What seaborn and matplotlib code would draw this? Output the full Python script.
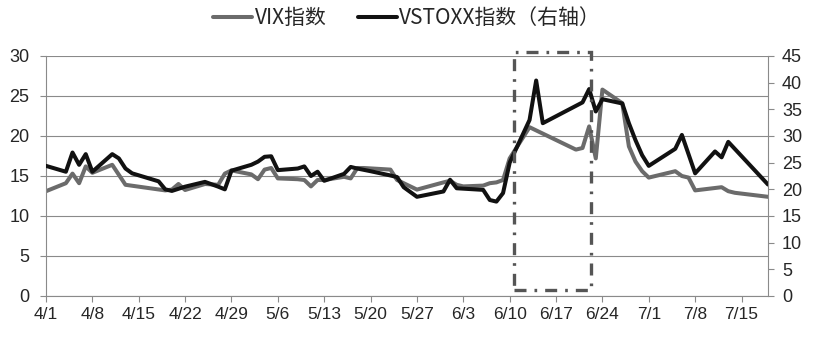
import pandas as pd
import matplotlib
matplotlib.use('Agg')
import matplotlib.pyplot as plt
import matplotlib.dates as mdates
import seaborn as sns
from matplotlib.patches import Rectangle

# VIX（左轴）
vix_dates = ['4/1', '4/4', '4/5', '4/6', '4/7', '4/8', '4/11', '4/13', '4/19', '4/20',
             '4/21', '4/22', '4/25', '4/27', '4/28', '4/29', '5/2', '5/3', '5/4', '5/5',
             '5/6', '5/9', '5/10', '5/11', '5/12', '5/13', '5/16', '5/17', '5/18', '5/19',
             '5/23', '5/24', '5/27', '5/31', '6/1', '6/2', '6/3', '6/6', '6/7', '6/8',
             '6/9', '6/10', '6/13', '6/14', '6/20', '6/21', '6/22', '6/23', '6/24', '6/27',
             '6/28', '6/29', '6/30', '7/1', '7/5', '7/6', '7/7', '7/8', '7/11', '7/12',
             '7/13', '7/14', '7/15', '7/18', '7/19']
vix_values = [13.1, 14.1, 15.3, 14.1, 16.2, 15.4, 16.4, 13.9, 13.2, 13.3,
              14.0, 13.25, 14.0, 13.9, 15.3, 15.7, 15.2, 14.6, 15.8, 16.0,
              14.7, 14.6, 14.5, 13.7, 14.5, 14.5, 14.9, 14.7, 16.0, 16.0,
              15.8, 14.5, 13.3, 14.2, 14.4, 13.9, 13.7, 13.8, 14.1, 14.2,
              14.5, 17.2, 21.1, 20.7, 18.3, 18.5, 21.2, 17.2, 25.8, 24.1,
              18.7, 16.8, 15.6, 14.8, 15.6, 15.0, 14.8, 13.2, 13.5, 13.6,
              13.1, 12.9, 12.8, 12.5, 12.4]

# VSTOXX（右轴）
vstoxx_dates = ['4/1', '4/4', '4/5', '4/6', '4/7', '4/8', '4/11', '4/12', '4/13', '4/14',
                '4/18', '4/19', '4/20', '4/22', '4/25', '4/27', '4/28', '4/29', '5/2', '5/3',
                '5/4', '5/5', '5/6', '5/9', '5/10', '5/11', '5/12', '5/13', '5/16', '5/17',
                '5/18', '5/20', '5/23', '5/24', '5/25', '5/27', '5/31', '6/1', '6/2', '6/6',
                '6/7', '6/8', '6/9', '6/10', '6/13', '6/14', '6/15', '6/21', '6/22', '6/23',
                '6/24', '6/27', '6/28', '6/29', '6/30', '7/1', '7/5', '7/6', '7/8', '7/11',
                '7/12', '7/13', '7/19']
vstoxx_values = [24.4, 23.3, 26.9, 24.6, 26.6, 23.3, 26.6, 25.8, 23.9, 23.0,
                 21.5, 20.0, 19.7, 20.5, 21.4, 20.5, 20.0, 23.5, 24.6, 25.2,
                 26.1, 26.2, 23.6, 23.9, 24.3, 22.5, 23.3, 21.6, 22.9, 24.2,
                 23.9, 23.4, 22.6, 22.3, 20.4, 18.6, 19.6, 21.8, 20.2, 19.9,
                 18.0, 17.7, 19.3, 25.0, 33.0, 40.4, 32.4, 36.3, 38.8, 34.6,
                 36.9, 36.1, 32.4, 29.2, 26.4, 24.4, 27.6, 30.2, 23.0, 27.1,
                 26.0, 28.9, 20.9]

x_tick_labels = ['4/1', '4/8', '4/15', '4/22', '4/29', '5/6', '5/13', '5/20',
                 '5/27', '6/3', '6/10', '6/17', '6/24', '7/1', '7/8', '7/15']
left_ticks = [0, 5, 10, 15, 20, 25, 30]
right_ticks = [0, 5, 10, 15, 20, 25, 30, 35, 40, 45]


def to_date(md):
    return pd.to_datetime('2016/' + md)


vix_df = pd.DataFrame({'date': [to_date(d) for d in vix_dates], 'value': vix_values})
vstoxx_df = pd.DataFrame({'date': [to_date(d) for d in vstoxx_dates], 'value': vstoxx_values})

sns.set_style('white')
plt.rcParams['font.family'] = ['Liberation Sans', 'DejaVu Sans']

fig = plt.figure(figsize=(8.14, 3.37), dpi=100)
ax = fig.add_axes([46 / 814, 41 / 337, 722 / 814, 240 / 337])
ax2 = ax.twinx()

grid_color = '#8a8a8a'

sns.lineplot(data=vix_df, x='date', y='value', ax=ax, color='#6b6b6b',
             linewidth=2.9, label='VIX指数', legend=False)
sns.lineplot(data=vstoxx_df, x='date', y='value', ax=ax2, color='#111111',
             linewidth=2.9, label='VSTOXX指数（右轴）', legend=False)
for line in ax.lines + ax2.lines:
    line.set_solid_joinstyle('round')

ax.set_xlim(to_date('4/1'), to_date('7/19'))
ax.set_ylim(0, 30)
ax2.set_ylim(0, 45)
ax.set_yticks(left_ticks)
ax2.set_yticks(right_ticks)
ax.set_xticks([to_date(t) for t in x_tick_labels])
ax.set_xticklabels(x_tick_labels, fontsize=12.5)

ax.grid(axis='y', color=grid_color, linewidth=0.8)
ax.grid(axis='x', visible=False)
ax.set_xlabel('')
ax.set_ylabel('')
ax2.set_xlabel('')
ax2.set_ylabel('')

for a in (ax, ax2):
    a.spines['top'].set_visible(False)
    for s in ('left', 'right', 'bottom'):
        a.spines[s].set_color(grid_color)
        a.spines[s].set_linewidth(0.8)
ax.spines['right'].set_visible(False)
ax2.spines['left'].set_visible(False)
ax2.spines['bottom'].set_visible(False)

ax.tick_params(axis='y', left=True, length=4, width=0.8, color=grid_color,
               labelsize=13, pad=8)
ax.tick_params(axis='x', bottom=True, length=4, width=0.8, color=grid_color, pad=4)
ax2.tick_params(axis='y', right=True, length=4, width=0.8, color=grid_color,
                labelsize=13, pad=6)

# 虚线框（6/10 - 6/22），以左轴刻度定位
box_x0 = mdates.date2num(to_date('6/10') + pd.Timedelta(hours=17))
box_x1 = mdates.date2num(to_date('6/22') + pd.Timedelta(hours=7))
box = Rectangle((box_x0, 0.75), box_x1 - box_x0, 30.5 - 0.75,
                transform=ax.transData, fill=False, edgecolor='#555555',
                linewidth=2.4, linestyle=(0, (3.6, 2.4, 0.8, 2.4)),
                clip_on=False, zorder=5)
ax2.add_patch(box)

h1, l1 = ax.get_legend_handles_labels()
h2, l2 = ax2.get_legend_handles_labels()
fig.legend(h1 + h2, l1 + l2, loc='center', bbox_to_anchor=(0.5, 0.947), ncol=2,
           frameon=False, handlelength=1.9, handletextpad=0.1, columnspacing=1.5,
           prop={'family': ['Noto Sans CJK SC', 'DejaVu Sans'], 'size': 15})

fig.savefig('out.png', dpi=100)
